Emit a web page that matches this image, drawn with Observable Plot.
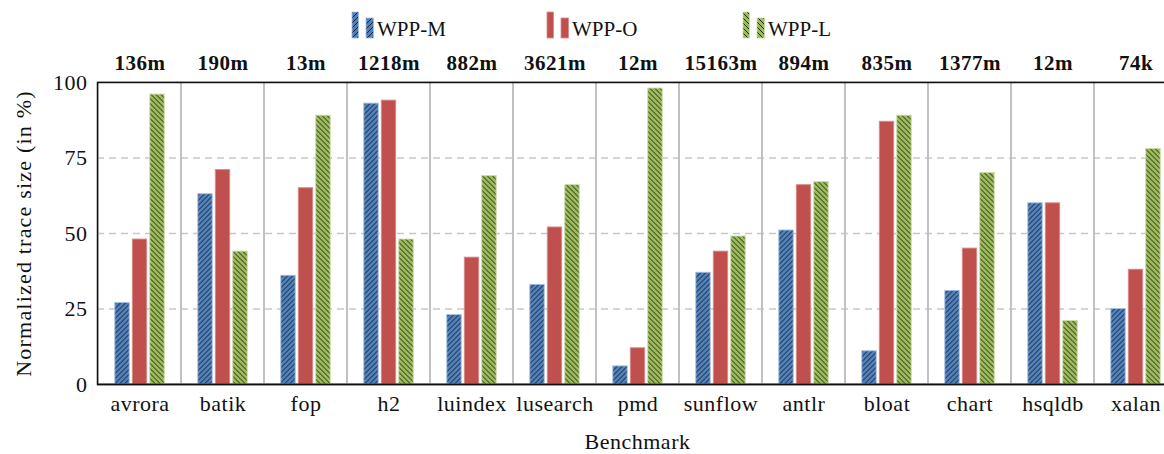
<!DOCTYPE html>
<html>
<head>
<meta charset="utf-8">
<script src="https://cdn.jsdelivr.net/npm/d3@7"></script>
<script src="https://cdn.jsdelivr.net/npm/@observablehq/plot@0.6"></script>
<style>
  body { margin: 0; background: #fff; font-family: 'Liberation Serif', serif; }
  #legend { width: 1164px; height: 46px; overflow: hidden; }
  #legend svg, #chart svg { display: block; }
  #chart { width: 1164px; height: 408px; overflow: hidden; }
  #chart svg { max-width: none !important; width: 1177px !important; height: 408px !important; }
</style>
</head>
<body>
<div id="legend"></div>
<div id="chart"></div>
<script>
// ---- data ----
const benchmarks = ["avrora","batik","fop","h2","luindex","lusearch","pmd","sunflow","antlr","bloat","chart","hsqldb","xalan"];
const traceLabels = ["136m","190m","13m","1218m","882m","3621m","12m","15163m","894m","835m","1377m","12m","74k"];
const seriesNames = ["WPP-M","WPP-O","WPP-L"];
const wppM = [27,63,36,93,23,33,6,37,51,11,31,60,25];
const wppO = [48,71,65,94,42,52,12,44,66,87,45,60,38];
const wppL = [96,44,89,48,69,66,98,49,67,89,70,21,78];
const yTicks = [0,25,50,75,100];
const gridTicks = [25,50,75];

// ---- styles ----
const seriesStyle = {
  "WPP-M": {fill: "url(#hatchM)", stroke: "#a4bfe3", dx: -17.5},
  "WPP-O": {fill: "#c0504d", stroke: "#d98a88", dx: 0},
  "WPP-L": {fill: "url(#hatchL)", stroke: "#c9dca6", dx: 17.5}
};
const seriesValues = {"WPP-M": wppM, "WPP-O": wppO, "WPP-L": wppL};

// ---- legend (also holds pattern defs) ----
const legendSvg = d3.select("#legend").append("svg")
  .attr("width", 1164).attr("height", 46)
  .style("font-family", "'Liberation Serif', serif");
const defs = legendSvg.append("defs");
function hatch(id, color, dir) {
  const p = defs.append("pattern").attr("id", id)
    .attr("patternUnits", "userSpaceOnUse").attr("width", 5).attr("height", 5);
  p.append("rect").attr("width", 5).attr("height", 5).attr("fill", color);
  const d = dir === "ne"
    ? "M-1,1 L1,-1 M0,5 L5,0 M4,6 L6,4"
    : "M-1,4 L1,6 M0,0 L5,5 M4,-1 L6,1";
  p.append("path").attr("d", d).attr("stroke", "#111").attr("stroke-width", 0.85);
}
hatch("hatchM", "#4f81bd", "ne");
hatch("hatchL", "#9bbb59", "nw");

const legendX = {"WPP-M": 352, "WPP-O": 547, "WPP-L": 743};
seriesNames.forEach(name => {
  const s = seriesStyle[name];
  const x0 = legendX[name];
  const g = legendSvg.append("g");
  g.append("rect").attr("x", x0).attr("y", 12).attr("width", 6.5).attr("height", 26)
    .attr("fill", s.fill).attr("stroke", s.stroke).attr("stroke-width", 0.8);
  g.append("rect").attr("x", x0 + 14).attr("y", 18).attr("width", 7.5).attr("height", 20)
    .attr("fill", s.fill).attr("stroke", s.stroke).attr("stroke-width", 0.8);
  g.append("text").attr("x", x0 + 25).attr("y", 36).attr("font-size", 21)
    .attr("fill", "#111").text(name);
});

// ---- table ----
const rows = seriesNames.flatMap(name =>
  benchmarks.map((b, i) => ({bench: b, series: name, value: seriesValues[name][i]})));
const labelRows = benchmarks.map((b, i) => ({bench: b, label: traceLabels[i]}));

const inset = 34.3;
const plot = Plot.plot({
  width: 1177,
  height: 408,
  marginLeft: 97,
  marginRight: 0,
  marginTop: 36,
  marginBottom: 70,
  style: {fontFamily: "'Liberation Serif', serif", fontSize: "22px", color: "#111", background: "white", maxWidth: "none"},
  x: {domain: benchmarks, padding: 0, axis: null},
  y: {domain: [0, 100], axis: null},
  marks: [
    Plot.ruleY(gridTicks, {stroke: "#c8c8c8", strokeWidth: 1.3, strokeDasharray: "7,5"}),
    Plot.barY(benchmarks, {x: d => d, y1: 0, y2: 100, fill: "none", stroke: "#bdbdbd", strokeWidth: 1.5}),
    ...seriesNames.map(name => Plot.barY(rows.filter(r => r.series === name), {
      x: "bench", y1: 0, y2: "value",
      fill: seriesStyle[name].fill, stroke: seriesStyle[name].stroke, strokeWidth: 0.9,
      insetLeft: inset, insetRight: inset, dx: seriesStyle[name].dx
    })),
    Plot.frame({stroke: "#111", strokeWidth: 1.5}),
    Plot.ruleY([0], {stroke: "#111", strokeWidth: 1.5}),
    // top trace count labels
    Plot.text(labelRows, {x: "bench", text: "label", frameAnchor: "top", lineAnchor: "middle", dy: -19.7,
      fontWeight: "bold", fontSize: 21, fill: "#111"}),
    // x tick labels
    Plot.text(benchmarks, {x: d => d, text: d => d, frameAnchor: "bottom", lineAnchor: "middle", dy: 19,
      fontSize: 22, fill: "#111"}),
    // y tick labels
    Plot.text(yTicks, {y: d => d, text: d => String(d), frameAnchor: "left", lineAnchor: "middle",
      textAnchor: "end", dx: -10, fontSize: 22, fill: "#111"}),
    // axis titles
    Plot.text(["Benchmark"], {frameAnchor: "bottom", lineAnchor: "middle", textAnchor: "middle",
      dy: 57, text: d => d, fontSize: 22, fill: "#111"}),
    Plot.text(["Normalized trace size (in %)"], {frameAnchor: "left", lineAnchor: "middle", textAnchor: "middle",
      dx: -74, rotate: -90, text: d => d, fontSize: 22, fill: "#111"})
  ]
});
document.getElementById("chart").appendChild(plot);
const svgSel = d3.select(plot);
svgSel.selectAll("text").style("letter-spacing", "0.5px");
svgSel.selectAll("text").filter(function() { return this.textContent === "Normalized trace size (in %)"; })
  .style("letter-spacing", "1.2px");
</script>
</body>
</html>
